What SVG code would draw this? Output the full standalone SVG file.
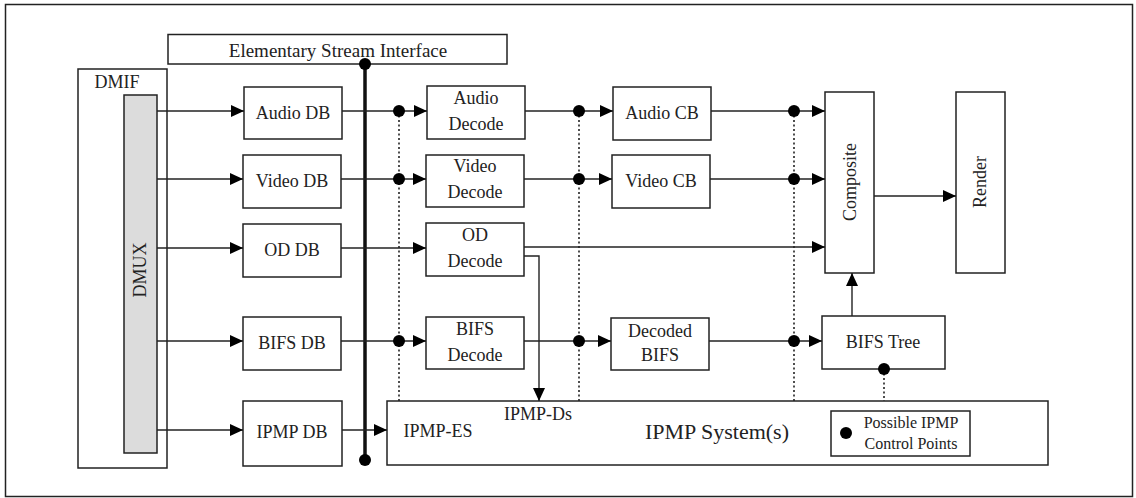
<svg xmlns="http://www.w3.org/2000/svg" width="1136" height="498" viewBox="0 0 1136 498">
<style>
.box{fill:#fff;stroke:#222;stroke-width:1.5}
.ln{fill:none;stroke:#222;stroke-width:1.4}
.dot{fill:#000}
.dash{fill:none;stroke:#222;stroke-width:1.6;stroke-dasharray:2,2.5}
.t{font-family:"Liberation Serif","Times New Roman",serif;font-size:18px;fill:#222;text-anchor:middle}
</style>
<defs>
<marker id="ah" markerWidth="14" markerHeight="12" refX="13" refY="6" orient="auto" markerUnits="userSpaceOnUse">
<path d="M0,0 L13,6 L0,12 Z" fill="#000"/>
</marker>
</defs>
<rect x="5.5" y="4.5" width="1127" height="492" fill="#fff" stroke="#222" stroke-width="1.5"/>

<g id="esi"><rect class="box" x="168" y="34.5" width="339" height="29.5"/><text class="t" x="338" y="57" style="font-size:19px">Elementary Stream Interface</text></g>
<g id="dmif"><rect class="box" x="78" y="69" width="89" height="399"/><text class="t" x="117" y="88">DMIF</text></g>
<g id="dmux"><rect x="124" y="95" width="33" height="358" fill="#dcdcdc" stroke="#222" stroke-width="1.5"/><text class="t" transform="translate(146,270) rotate(-90)">DMUX</text></g>

<g id="audio-db"><rect class="box" x="244" y="87" width="98" height="52"/><text class="t" x="293" y="119">Audio DB</text></g>
<g id="video-db"><rect class="box" x="243" y="155" width="98" height="53"/><text class="t" x="292" y="187">Video DB</text></g>
<g id="od-db"><rect class="box" x="243" y="224" width="98" height="53"/><text class="t" x="292" y="256">OD DB</text></g>
<g id="bifs-db"><rect class="box" x="243" y="317" width="98" height="53"/><text class="t" x="292" y="349">BIFS DB</text></g>
<g id="ipmp-db"><rect class="box" x="243" y="401" width="99" height="65"/><text class="t" x="292" y="438">IPMP DB</text></g>

<g id="audio-decode"><rect class="box" x="427" y="86" width="98" height="53"/><text class="t" x="476" y="104">Audio</text><text class="t" x="476" y="130">Decode</text></g>
<g id="video-decode"><rect class="box" x="426" y="155" width="98" height="52"/><text class="t" x="475" y="172">Video</text><text class="t" x="475" y="198">Decode</text></g>
<g id="od-decode"><rect class="box" x="426" y="223" width="98" height="53"/><text class="t" x="475" y="241">OD</text><text class="t" x="475" y="267">Decode</text></g>
<g id="bifs-decode"><rect class="box" x="426" y="317" width="98" height="52"/><text class="t" x="475" y="335">BIFS</text><text class="t" x="475" y="361">Decode</text></g>

<g id="audio-cb"><rect class="box" x="613" y="87" width="98" height="53"/><text class="t" x="662" y="119">Audio CB</text></g>
<g id="video-cb"><rect class="box" x="612" y="155" width="98" height="53"/><text class="t" x="661" y="187">Video CB</text></g>
<g id="decoded-bifs"><rect class="box" x="611" y="318" width="98" height="52"/><text class="t" x="660" y="337">Decoded</text><text class="t" x="660" y="361">BIFS</text></g>

<g id="composite"><rect class="box" x="825" y="92" width="49" height="181"/><text class="t" transform="translate(856,182) rotate(-90)">Composite</text></g>
<g id="render"><rect class="box" x="956" y="92" width="49" height="181"/><text class="t" transform="translate(986,182) rotate(-90)">Render</text></g>
<g id="bifs-tree"><rect class="box" x="822" y="316" width="123" height="53"/><text class="t" x="883" y="348">BIFS Tree</text></g>

<g id="ipmp-system"><rect class="box" x="387" y="401" width="661" height="64"/><text class="t" x="717" y="439" style="font-size:22px">IPMP System(s)</text><text class="t" x="438" y="437">IPMP-ES</text><text class="t" x="538" y="420">IPMP-Ds</text></g>
<g id="legend"><rect class="box" x="831" y="411" width="139" height="45"/><circle class="dot" cx="846" cy="433" r="6"/><text class="t" x="911" y="428" style="font-size:16px">Possible IPMP</text><text class="t" x="911" y="449" style="font-size:16px">Control Points</text></g>

<g id="connectors">
<line x1="365" y1="64" x2="365" y2="460" stroke="#111" stroke-width="3.5"/>
<line class="ln" x1="157" y1="111" x2="244" y2="111" marker-end="url(#ah)"/>
<line class="ln" x1="157" y1="179" x2="243" y2="179" marker-end="url(#ah)"/>
<line class="ln" x1="157" y1="248" x2="243" y2="248" marker-end="url(#ah)"/>
<line class="ln" x1="157" y1="341" x2="243" y2="341" marker-end="url(#ah)"/>
<line class="ln" x1="157" y1="430" x2="243" y2="430" marker-end="url(#ah)"/>

<line class="ln" x1="342" y1="111" x2="427" y2="111" marker-end="url(#ah)"/>
<line class="ln" x1="341" y1="179" x2="426" y2="179" marker-end="url(#ah)"/>
<line class="ln" x1="341" y1="248" x2="426" y2="248" marker-end="url(#ah)"/>
<line class="ln" x1="341" y1="341" x2="426" y2="341" marker-end="url(#ah)"/>
<line class="ln" x1="342" y1="430" x2="387" y2="430" marker-end="url(#ah)"/>

<line class="ln" x1="525" y1="111" x2="613" y2="111" marker-end="url(#ah)"/>
<line class="ln" x1="524" y1="179" x2="612" y2="179" marker-end="url(#ah)"/>
<line class="ln" x1="524" y1="341" x2="611" y2="341" marker-end="url(#ah)"/>
<line class="ln" x1="524" y1="247" x2="825" y2="247" marker-end="url(#ah)"/>
<polyline class="ln" points="524,256 539,256 539,401" marker-end="url(#ah)"/>

<line class="ln" x1="711" y1="111" x2="825" y2="111" marker-end="url(#ah)"/>
<line class="ln" x1="710" y1="179" x2="825" y2="179" marker-end="url(#ah)"/>
<line class="ln" x1="709" y1="341" x2="822" y2="341" marker-end="url(#ah)"/>
<line class="ln" x1="852" y1="316" x2="852" y2="273" marker-end="url(#ah)"/>
<line class="ln" x1="874" y1="196" x2="956" y2="196" marker-end="url(#ah)"/>

<line class="dash" x1="399" y1="111" x2="399" y2="401"/>
<line class="dash" x1="579" y1="111" x2="579" y2="401"/>
<line class="dash" x1="794" y1="111" x2="794" y2="401"/>
<line class="dash" x1="884" y1="369" x2="884" y2="401"/>

<circle class="dot" cx="365" cy="64" r="6"/>
<circle class="dot" cx="365" cy="460" r="6"/>
<circle class="dot" cx="399" cy="111" r="6"/>
<circle class="dot" cx="399" cy="179" r="6"/>
<circle class="dot" cx="399" cy="341" r="6"/>
<circle class="dot" cx="579" cy="111" r="6"/>
<circle class="dot" cx="579" cy="179" r="6"/>
<circle class="dot" cx="579" cy="341" r="6"/>
<circle class="dot" cx="794" cy="111" r="6"/>
<circle class="dot" cx="794" cy="179" r="6"/>
<circle class="dot" cx="794" cy="341" r="6"/>
<circle class="dot" cx="884" cy="369" r="6"/>
</g>
</svg>
